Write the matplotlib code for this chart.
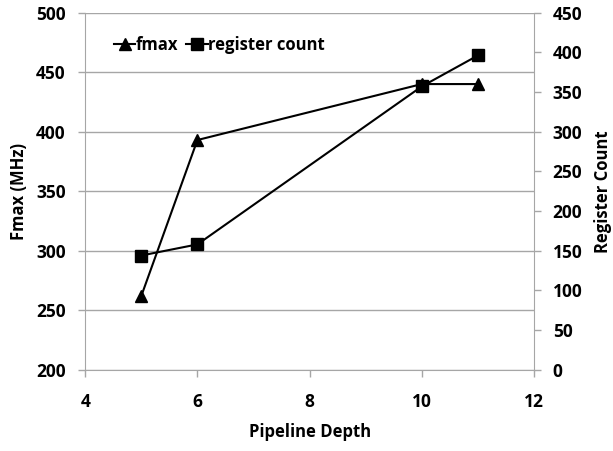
import matplotlib.pyplot as plt

# pipeline depth vs fmax / register count
depth = [5, 6, 10, 11]
fmax = [262, 393, 440, 440]
reg_count = [144, 158, 357, 396]

x_ticks = [4, 6, 8, 10, 12]
left_ticks = [200, 250, 300, 350, 400, 450, 500]
right_ticks = [0, 50, 100, 150, 200, 250, 300, 350, 400, 450]

plt.rcParams['font.family'] = ['Open Sans', 'DejaVu Sans']
plt.rcParams['font.weight'] = 'bold'

fig, ax = plt.subplots(figsize=(6.13, 4.51), dpi=100)
fig.subplots_adjust(left=0.139, right=0.871, top=0.972, bottom=0.18)
ax2 = ax.twinx()

grid_col = '#a6a6a6'
ax.set_xlim(4, 12)
ax.set_ylim(200, 500)
ax2.set_ylim(0, 450)
ax.set_xticks(x_ticks)
ax.set_yticks(left_ticks)
ax2.set_yticks(right_ticks)
ax.yaxis.grid(True, color=grid_col, linewidth=1)
ax.set_axisbelow(True)

l1, = ax.plot(depth, fmax, color='black', linewidth=1.5, marker='^', markersize=9, label='fmax')
l2, = ax2.plot(depth, reg_count, color='black', linewidth=1.5, marker='s', markersize=8.5, label='register count')

for a in (ax, ax2):
    a.spines['top'].set_visible(False)
    for s in ('left', 'right', 'bottom'):
        a.spines[s].set_color(grid_col)
    a.tick_params(colors=grid_col, labelcolor='black', labelsize=12.5, length=5, width=1)
ax.spines['right'].set_visible(False)
ax2.spines['left'].set_visible(False)
ax2.spines['bottom'].set_visible(False)
ax.tick_params(axis='x', pad=12)
ax.tick_params(axis='y', pad=9)
ax2.tick_params(axis='y', pad=8.5)

ax.set_xlabel('Pipeline Depth', fontsize=12, fontweight='bold', labelpad=8)
ax.set_ylabel('Fmax (MHz)', fontsize=12, fontweight='bold', labelpad=6)
ax2.set_ylabel('Register Count', fontsize=12, fontweight='bold', labelpad=8.5)

ax2.legend(handles=[l1, l2], loc='upper left', bbox_to_anchor=(0.03, 0.977), ncol=2, frameon=False,
           handlelength=1.3, handletextpad=0.0, columnspacing=0.5,
           prop={'weight': 'bold', 'size': 12})

fig.savefig('out.png', dpi=100)
